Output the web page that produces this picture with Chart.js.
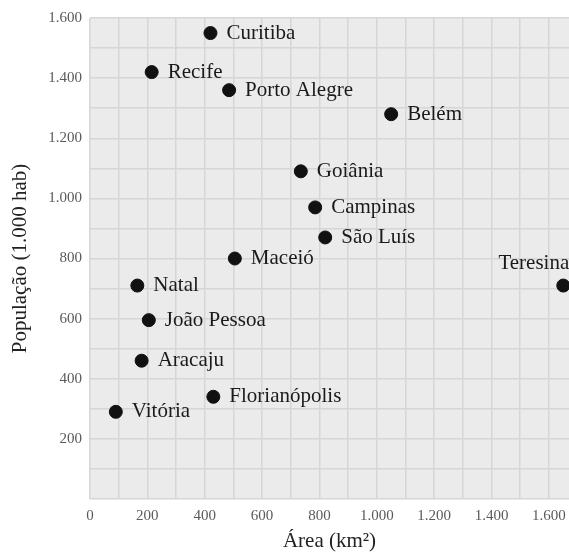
<!DOCTYPE html>
<html>
<head>
<meta charset="utf-8">
<script src="https://cdn.jsdelivr.net/npm/chart.js@4/dist/chart.umd.min.js"></script>
<style>
  html, body { margin: 0; padding: 0; background: #ffffff; }
  #wrap { width: 569px; height: 554px; }
</style>
</head>
<body>
<div id="wrap"><canvas id="scatterChart"></canvas></div>
<script>
// Cidades e valores
const cities = ['Curitiba', 'Recife', 'Porto Alegre', 'Belém', 'Goiânia', 'Campinas', 'São Luís',
                'Maceió', 'Teresina', 'Natal', 'João Pessoa', 'Aracaju', 'Florianópolis', 'Vitória'];
const areas = [420, 215, 485, 1050, 735, 785, 820, 505, 1650, 165, 205, 180, 430, 90];
const populations = [1550, 1420, 1360, 1280, 1090, 970, 870, 800, 710, 710, 595, 460, 340, 290];

const xTicks = [0, 200, 400, 600, 800, 1000, 1200, 1400, 1600];
const yTicks = [200, 400, 600, 800, 1000, 1200, 1400, 1600];

const serif = '"Liberation Serif", "Times New Roman", serif';

function fmt(v) {
    return String(v).replace(/\B(?=(\d{3})+(?!\d))/g, '.');
}

// the plot area runs right up to the canvas edge, so no extra room for point overflow
Chart.registry.getController('scatter').prototype.getMaxOverflow = function() { return 0; };

// fundo cinza da área do gráfico
const plotBackground = {
    id: 'plotBackground',
    beforeDraw(chart) {
        const { ctx, chartArea } = chart;
        ctx.save();
        ctx.fillStyle = '#ebebeb';
        ctx.fillRect(chartArea.left, chartArea.top, chartArea.right - chartArea.left, chartArea.bottom - chartArea.top);
        ctx.restore();
    }
};

// nomes das cidades ao lado dos pontos
const pointLabels = {
    id: 'pointLabels',
    afterDatasetsDraw(chart) {
        const ctx = chart.ctx;
        const meta = chart.getDatasetMeta(0);
        ctx.save();
        ctx.font = '21px ' + serif;
        ctx.fillStyle = '#1a1a1a';
        ctx.textBaseline = 'middle';
        meta.data.forEach((pt, i) => {
            if (cities[i] === 'Teresina') {
                ctx.textAlign = 'right';
                ctx.fillText(cities[i], pt.x + 6, pt.y - 22);
            } else {
                ctx.textAlign = 'left';
                ctx.fillText(cities[i], pt.x + 16, pt.y);
            }
        });
        ctx.restore();
    }
};

const ctx = document.getElementById('scatterChart').getContext('2d');

new Chart(ctx, {
    type: 'scatter',
    data: {
        datasets: [{
            data: areas.map((a, i) => ({ x: a, y: populations[i] })),
            backgroundColor: '#111111',
            borderColor: '#111111',
            pointRadius: 6.5,
            pointHoverRadius: 6.5,
            clip: false
        }]
    },
    options: {
        responsive: true,
        maintainAspectRatio: false,
        animation: false,
        layout: { padding: { top: 18, right: 0 } },
        plugins: {
            legend: { display: false },
            tooltip: { enabled: false }
        },
        scales: {
            x: {
                type: 'linear',
                min: 0,
                max: 1670,
                border: { display: false },
                grid: { color: '#d6d6d6', lineWidth: 1.5, drawTicks: false },
                afterBuildTicks: function(scale) {
                    const t = [];
                    for (let v = 0; v <= 1600; v += 100) t.push({ value: v });
                    scale.ticks = t;
                },
                afterFit: function(scale) {
                    scale.height = 55;
                    scale.paddingLeft = 0;
                    scale.paddingRight = 0;
                },
                ticks: {
                    padding: 8,
                    maxRotation: 0,
                    minRotation: 0,
                    autoSkip: false,
                    color: '#5a5a5a',
                    font: { family: serif, size: 15 },
                    callback: function(value) {
                        return xTicks.includes(value) ? fmt(value) : '';
                    }
                },
                title: {
                    display: true,
                    text: 'Área (km²)',
                    color: '#222222',
                    font: { family: serif, size: 21 },
                    padding: { top: 2, bottom: 0 }
                }
            },
            y: {
                type: 'linear',
                min: 0,
                max: 1600,
                border: { display: false },
                grid: { color: '#d6d6d6', lineWidth: 1.5, drawTicks: false },
                afterBuildTicks: function(scale) {
                    const t = [];
                    for (let v = 0; v <= 1600; v += 100) t.push({ value: v });
                    scale.ticks = t;
                },
                afterFit: function(scale) { scale.width = 90; },
                ticks: {
                    padding: 8,
                    color: '#5a5a5a',
                    font: { family: serif, size: 15 },
                    callback: function(value) {
                        return yTicks.includes(value) ? fmt(value) : '';
                    }
                },
                title: {
                    display: true,
                    text: 'População (1.000 hab)',
                    color: '#222222',
                    font: { family: serif, size: 21 },
                    padding: { top: 8, bottom: 0 }
                }
            }
        }
    },
    plugins: [plotBackground, pointLabels]
});
</script>
</body>
</html>
